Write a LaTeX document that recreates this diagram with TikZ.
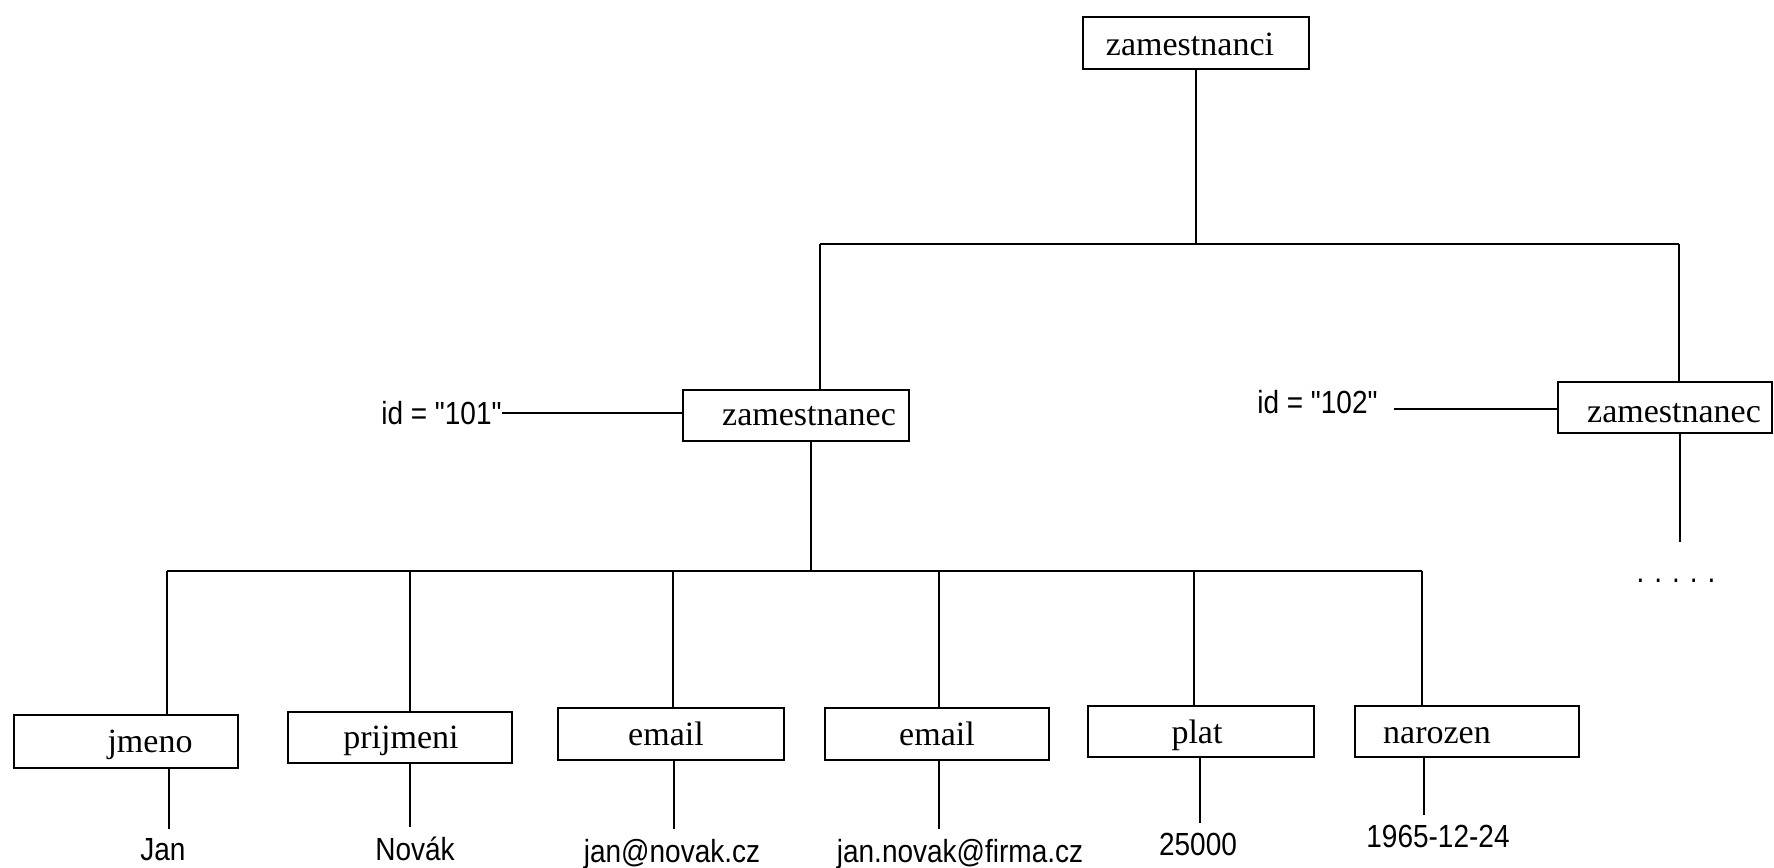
\documentclass[tikz,border=0pt]{standalone}
\usepackage{fontspec}
\setmainfont{Liberation Serif}
\newfontfamily\valfont[FakeStretch=0.875]{Liberation Sans}
\begin{document}
\begin{tikzpicture}[x=0.5pt,y=-0.5pt,
  box/.style={draw, line width=1pt, inner sep=0pt},
  lbl/.style={anchor=base, inner sep=0pt, font=\fontsize{17pt}{20pt}\selectfont},
  val/.style={anchor=base, inner sep=0pt, font=\valfont\fontsize{16pt}{19pt}\selectfont},
  link/.style={line width=1pt}]
\useasboundingbox (0,0) rectangle (1774,868);

% element boxes
\node[box, minimum width=113pt, minimum height=26pt]   (top) at (1196,43)    {};
\node[box, minimum width=113pt, minimum height=25.5pt] (b1)  at (796,415.5)  {};
\node[box, minimum width=107pt, minimum height=25.5pt] (b2)  at (1665,407.5) {};
\node[box, minimum width=112pt, minimum height=26.5pt] (jm)  at (126,741.5)  {};
\node[box, minimum width=112pt, minimum height=25.5pt] (pr)  at (400,737.5)  {};
\node[box, minimum width=113pt, minimum height=26pt]   (em1) at (671,734)    {};
\node[box, minimum width=112pt, minimum height=26pt]   (em2) at (937,734)    {};
\node[box, minimum width=113pt, minimum height=25.5pt] (pl)  at (1201,731.5) {};
\node[box, minimum width=112pt, minimum height=25.5pt] (nar) at (1467,731.5) {};

% element names
\node[lbl] (topt) at (1190,55)  {zamestnanci};
\node[lbl] (b1t)  at (809,425)  {zamestnanec};
\node[lbl] (b2t)  at (1674,422) {zamestnanec};
\node[lbl] (jmt)  at (150,752)  {jmeno};
\node[lbl] (prt)  at (401,748)  {prijmeni};
\node[lbl] (em1t) at (666,745)  {email};
\node[lbl] (em2t) at (937,745)  {email};
\node[lbl] (plt)  at (1197,743) {plat};
\node[lbl] (nart) at (1437,743) {narozen};

% attributes
\node[val, anchor=east] (id1) at (502,413)  {id = "101"};
\node[val, anchor=east] (id2) at (1378,402) {id = "102"};

% text values
\node[val] (v1) at (163,860)  {Jan};
\node[val] (v2) at (415,860)  {Novák};
\node[val] (v3) at (672,862)  {jan@novak.cz};
\node[val] (v4) at (960,862)  {jan.novak@firma.cz};
\node[val] (v5) at (1198,855) {25000};
\node[val] (v6) at (1438,847) {1965-12-24};
\node[val] (more) at (1676,582) {.\hspace{5pt}.\hspace{5pt}.\hspace{5pt}.\hspace{5pt}.};

% root to employees
\coordinate (t1) at (820,244);
\coordinate (t2) at (1679,244);
\draw[link] (top.south) -- (top.south |- t1);
\draw[link] (t1) -- (t2);
\draw[link] (t1) -- (t1 |- b1.north);
\draw[link] (t2) -- (t2 |- b2.north);

% attribute lines
\draw[link] (id1.east) -- (id1.east -| b1.west);
\coordinate (g2) at (1394,409);
\draw[link] (g2) -- (g2 -| b2.west);

% second employee continues
\coordinate (e2) at (1680,542);
\draw[link] (e2 |- b2.south) -- (e2);

% first employee to its children
\coordinate (s1) at (811,571);
\draw[link] (s1 |- b1.south) -- (s1);
\coordinate (k1) at (167,571);
\coordinate (k2) at (410,571);
\coordinate (k3) at (673,571);
\coordinate (k4) at (939,571);
\coordinate (k5) at (1194,571);
\coordinate (k6) at (1422,571);
\draw[link] (k1) -- (k6);
\draw[link] (k1) -- (k1 |- jm.north);
\draw[link] (k2) -- (k2 |- pr.north);
\draw[link] (k3) -- (k3 |- em1.north);
\draw[link] (k4) -- (k4 |- em2.north);
\draw[link] (k5) -- (k5 |- pl.north);
\draw[link] (k6) -- (k6 |- nar.north);

% children to their values
\coordinate (d1) at (169,0);
\coordinate (d2) at (410,0);
\coordinate (d3) at (674,0);
\coordinate (d4) at (939,0);
\coordinate (d5) at (1200,0);
\coordinate (d6) at (1424,0);
\draw[link, shorten >=4.5pt] (d1 |- jm.south)  -- (d1 |- v1.north);
\draw[link, shorten >=4.5pt] (d2 |- pr.south)  -- (d2 |- v2.north);
\draw[link, shorten >=4.5pt] (d3 |- em1.south) -- (d3 |- v3.north);
\draw[link, shorten >=4.5pt] (d4 |- em2.south) -- (d4 |- v4.north);
\draw[link, shorten >=4.5pt] (d5 |- pl.south)  -- (d5 |- v5.north);
\draw[link, shorten >=4.5pt] (d6 |- nar.south) -- (d6 |- v6.north);
\end{tikzpicture}
\end{document}
